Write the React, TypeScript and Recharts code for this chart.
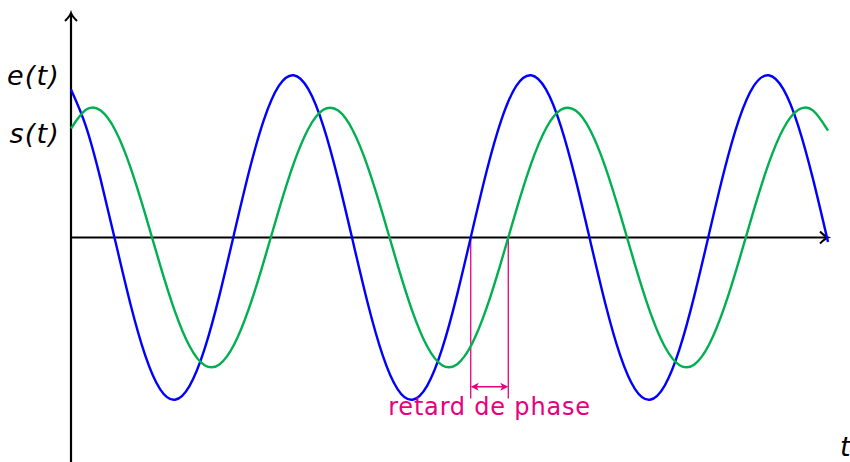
import { LineChart, Line, XAxis, YAxis, ReferenceLine, ReferenceDot } from 'recharts'

// e(t) and s(t), sampled at unit steps of t (16 steps per period)
const eValues = [
  1.141, 0.859, 0.446, -0.034, -0.51, -0.908, -1.168, -1.25, -1.141, -0.859, -0.446, 0.034, 0.51, 0.908, 1.168, 1.25,
  1.141, 0.859, 0.446, -0.034, -0.51, -0.908, -1.168, -1.25, -1.141, -0.859, -0.446, 0.034, 0.51, 0.908, 1.168, 1.25,
  1.141, 0.859, 0.446, -0.034, -0.51, -0.908, -1.168, -1.25, -1.141, -0.859, -0.446, 0.034, 0.51, 0.908, 1.168, 1.25,
  1.141, 0.859, 0.446, -0.034,
]
const sValues = [
  0.84, 0.984, 0.978, 0.823, 0.543, 0.18, -0.211, -0.569, -0.84, -0.984, -0.978, -0.823, -0.543, -0.18, 0.211, 0.569,
  0.84, 0.984, 0.978, 0.823, 0.543, 0.18, -0.211, -0.569, -0.84, -0.984, -0.978, -0.823, -0.543, -0.18, 0.211, 0.569,
  0.84, 0.984, 0.978, 0.823, 0.543, 0.18, -0.211, -0.569, -0.84, -0.984, -0.978, -0.823, -0.543, -0.18, 0.211, 0.569,
  0.84, 0.984, 0.978, 0.823,
]

// y-axis labels
const yTickValues = [1.25, 0.8]
const yTickLabels = ['e(t)', 's(t)']

// rising zero crossings of e and s used to mark the phase lag
const eCrossing = 26.93
const sCrossing = 29.46

const data = eValues.map((e, i) => ({ t: i, e, s: sValues[i] }))

const MAGENTA = '#e6007e'
const FONT = '"DejaVu Sans", sans-serif'

const VerticalArrowAxis = (p: any) => {
  const x = p.x1
  const top = Math.min(p.y1, p.y2)
  const bottom = Math.max(p.y1, p.y2)
  return (
    <g>
      <line x1={x} y1={bottom} x2={x} y2={top} stroke="#000" strokeWidth={2.2} />
      <path
        d={`M${x - 6},${top + 8} Q${x - 1},${top + 3} ${x},${top} Q${x + 1},${top + 3} ${x + 6},${top + 8}`}
        fill="none"
        stroke="#000"
        strokeWidth={2}
      />
    </g>
  )
}

const HorizontalArrowAxis = (p: any) => {
  const y = p.y1
  const left = Math.min(p.x1, p.x2)
  const right = Math.max(p.x1, p.x2)
  return (
    <g>
      <line x1={left} y1={y} x2={right} y2={y} stroke="#000" strokeWidth={2.2} />
      <path
        d={`M${right - 8},${y - 6} Q${right - 3},${y - 1} ${right},${y} Q${right - 3},${y + 1} ${right - 8},${y + 6}`}
        fill="none"
        stroke="#000"
        strokeWidth={2}
      />
    </g>
  )
}

const DoubleArrow = (p: any) => {
  const y = p.y1
  const a = Math.min(p.x1, p.x2)
  const b = Math.max(p.x1, p.x2)
  return (
    <g>
      <line x1={a + 2} y1={y} x2={b - 2} y2={y} stroke={MAGENTA} strokeWidth={1.6} />
      <path d={`M${a},${y} L${a + 8},${y - 4} L${a + 6},${y} L${a + 8},${y + 4} Z`} fill={MAGENTA} />
      <path d={`M${b},${y} L${b - 8},${y - 4} L${b - 6},${y} L${b - 8},${y + 4} Z`} fill={MAGENTA} />
    </g>
  )
}

export default function App() {
  return (
    <div style={{ position: 'absolute', left: 0, top: 0, width: 850, height: 462, background: '#fff' }}>
      <LineChart width={850} height={462} data={data} margin={{ top: 13, right: 22, bottom: 0, left: 0 }}>
        <XAxis type="number" dataKey="t" domain={[0, 51]} hide />
        <YAxis
          type="number"
          domain={[-1.73, 1.73]}
          ticks={yTickValues}
          interval={0}
          width={71}
          axisLine={false}
          tickLine={false}
          tickMargin={5}
          tickFormatter={(v: number) => yTickLabels[yTickValues.indexOf(v)] ?? ''}
          tick={{ fill: '#000', fontSize: 27, fontStyle: 'italic', fontFamily: FONT, letterSpacing: 1.2 }}
        />
        <ReferenceLine x={0} ifOverflow="visible" shape={VerticalArrowAxis} />
        <ReferenceLine y={0} ifOverflow="visible" shape={HorizontalArrowAxis} />
        <ReferenceLine
          segment={[{ x: eCrossing, y: 0 }, { x: eCrossing, y: -1.24 }]}
          stroke={MAGENTA}
          strokeWidth={1.3}
        />
        <ReferenceLine
          segment={[{ x: sCrossing, y: 0 }, { x: sCrossing, y: -1.24 }]}
          stroke={MAGENTA}
          strokeWidth={1.3}
        />
        <ReferenceLine
          segment={[{ x: eCrossing, y: -1.15 }, { x: sCrossing, y: -1.15 }]}
          shape={DoubleArrow}
          label={{
            value: 'retard de phase',
            position: 'bottom',
            offset: 11,
            fill: MAGENTA,
            fontSize: 24,
            fontFamily: FONT,
            letterSpacing: 0.8,
          }}
        />
        <ReferenceDot
          x={51}
          y={-1.61}
          r={0}
          ifOverflow="visible"
          label={{ value: 't', position: 'right', offset: 12, fill: '#000', fontSize: 27, fontStyle: 'italic', fontFamily: FONT }}
        />
        <Line type="natural" dataKey="e" stroke="#0000ff" strokeWidth={2.4} dot={false} isAnimationActive={false} />
        <Line type="natural" dataKey="s" stroke="#00b050" strokeWidth={2.4} dot={false} isAnimationActive={false} />
      </LineChart>
    </div>
  )
}
